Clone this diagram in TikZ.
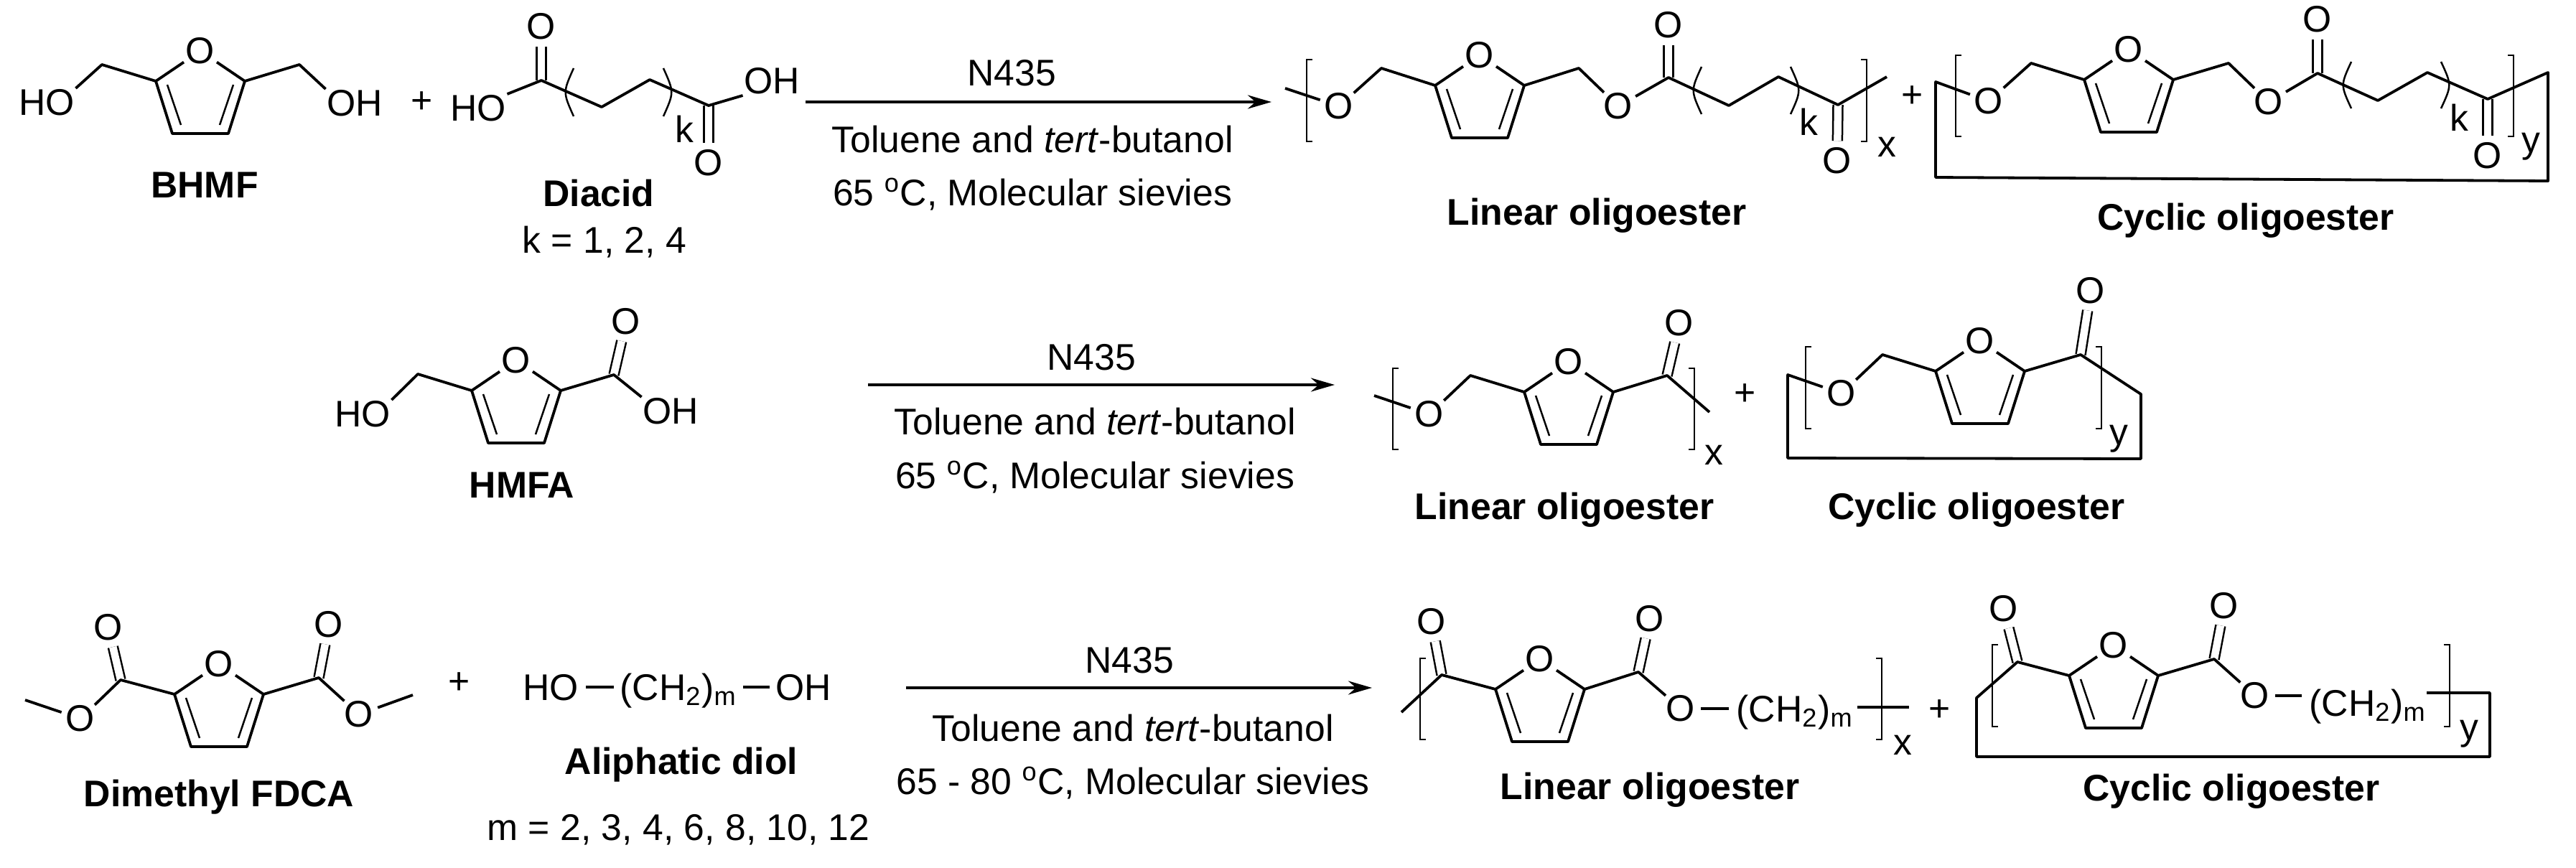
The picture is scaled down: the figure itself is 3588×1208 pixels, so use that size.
\documentclass[tikz,border=0pt]{standalone}
\usepackage{fontspec}
\setmainfont{Liberation Sans}
\usetikzlibrary{arrows.meta}

\tikzset{
  every node/.style={font=\fontsize{14.7}{16}\selectfont},
  atom/.style={circle, inner sep=0pt},
  grp/.style={inner sep=0.1mm},
  txt/.style={anchor=base, inner sep=0pt},
  lbl/.style={anchor=base, inner sep=0pt, font=\fontsize{14.7}{16}\selectfont\bfseries},
  bond/.style={line width=0.38mm, line join=round},
  fine/.style={line width=0.25mm},
  dbl/.style={line width=0.25mm, double, double distance=1.05mm},
  rxn/.style={line width=0.42mm, -{Stealth[length=3.3mm, width=1.9mm]}},
}

% ring with its O at (#2,#3)
\newcommand{\furan}[3]{
  \node[atom] (#1O) at (#2,#3) {O};
  \coordinate (#1L) at (#2-62,#3+42);
  \coordinate (#1R) at (#2+62,#3+42);
  \coordinate (#1BL) at (#2-39,#3+115);
  \coordinate (#1BR) at (#2+39,#3+115);
  \draw[bond] (#1O) -- (#1L) -- (#1BL) -- (#1BR) -- (#1R) -- (#1O);
  \draw[fine] (#2-46,#3+47) -- (#2-27,#3+103);
  \draw[fine] (#2+46,#3+47) -- (#2+27,#3+103);
}
\newcommand{\brackets}[4]{
  \draw[fine] (#1+8,#3) -- (#1,#3) -- (#1,#4) -- (#1+8,#4);
  \draw[fine] (#2-8,#3) -- (#2,#3) -- (#2,#4) -- (#2-8,#4);
}
\newcommand{\parens}[4]{
  \draw[fine] (#1+11,#3) .. controls (#1-4,{(#3+#4)/2}) .. (#1+11,#4);
  \draw[fine] (#2-11,#3) .. controls (#2+4,{(#3+#4)/2}) .. (#2-11,#4);
}

\begin{document}
\begin{tikzpicture}[x=0.1mm, y=-0.1mm]
\useasboundingbox (0,0) rectangle (3588,1208);

% first row
\furan{bh}{279}{71}
\coordinate (bhA) at (142,90);
\coordinate (bhB) at (417,90);
\node[grp] (bhHO) at (65,143) {HO};
\node[grp] (bhOH) at (494,144) {OH};
\draw[bond] (bhHO.north east) -- (bhA) -- (bhL);
\draw[bond] (bhOH.north west) -- (bhB) -- (bhR);
\node[lbl] (bhname) at (285,275) {BHMF};
\node (plusA) at (588,143) {+};

\node[grp] (daHO) at (666,151) {HO};
\node[grp] (daOH) at (1075,113) {OH};
\node[atom] (daOa) at (754,37) {O};
\node[atom] (daOb) at (987,227) {O};
\coordinate (daA) at (754,112);
\coordinate (daB) at (838,149);
\coordinate (daC) at (905,111);
\coordinate (daD) at (987,147);
\draw[dbl] (daA) -- (daOa);
\draw[dbl] (daD) -- (daOb);
\draw[bond] (daHO.north east) -- (daA) -- (daB) -- (daC) -- (daD) -- (daOH.south west);
\parens{788}{935}{95}{162}
\node[txt] (dak) at (953,198) {k};
\node[lbl] (daname) at (834,287) {Diacid};
\node[txt] (davals) at (842,352) {k = 1, 2, 4};

\coordinate (arrA) at (1122,142);
\coordinate (arrB) at (1771,142);
\draw[rxn] (arrA) -- (arrB);
\node[txt] (catA) at (1409,119) {N435};
\node[txt] (solA) at (1438,212) {Toluene and \textit{tert}-butanol};
\node[txt] (condA) at (1438,286) {65 \textsuperscript{o}C, Molecular sievies};

% linear, first row
\furan{la}{2061}{77}
\node[atom] (laOa) at (1865,148) {O};
\node[atom] (laOb) at (2254,148) {O};
\node[atom] (laOc) at (2324,35) {O};
\node[atom] (laOd) at (2559,224) {O};
\coordinate (laS) at (1790,123);
\coordinate (laA) at (1924,95);
\coordinate (laB) at (2199,95);
\coordinate (laC) at (2324,108);
\coordinate (laD) at (2408,147);
\coordinate (laE) at (2477,107);
\coordinate (laF) at (2560,146);
\coordinate (laT) at (2628,107);
\draw[dbl] (laC) -- (laOc);
\draw[dbl] (laF) -- (laOd);
\draw[bond] (laS) -- (laOa) -- (laA) -- (laL);
\draw[bond] (laR) -- (laB) -- (laOb) -- (laC) -- (laD) -- (laE) -- (laF) -- (laT);
\parens{2359}{2505}{93}{159}
\brackets{1820}{2600}{83}{197}
\node[txt] (lak) at (2519,188) {k};
\node[txt] (lax) at (2628,218) {x};
\node[lbl] (laname) at (2224,313) {Linear oligoester};
\node (plusB) at (2664,135) {+};

% cyclic, first row
\furan{ca}{2965}{69}
\node[atom] (caOa) at (2770,141) {O};
\node[atom] (caOb) at (3160,142) {O};
\node[atom] (caOc) at (3228,27) {O};
\node[atom] (caOd) at (3465,217) {O};
\coordinate (caA) at (2829,88);
\coordinate (caB) at (3104,88);
\coordinate (caC) at (3228,102);
\coordinate (caD) at (3312,140);
\coordinate (caE) at (3381,101);
\coordinate (caF) at (3465,138);
\coordinate (caG) at (3549,101);
\coordinate (caH) at (3549,252);
\coordinate (caI) at (2696,247);
\coordinate (caJ) at (2696,114);
\draw[dbl] (caC) -- (caOc);
\draw[dbl] (caF) -- (caOd);
\draw[bond] (caL) -- (caA) -- (caOa) -- (caJ) -- (caI) -- (caH) -- (caG) -- (caF) -- (caE) -- (caD) -- (caC) -- (caOb) -- (caB) -- (caR);
\parens{3264}{3411}{86}{151}
\brackets{2724}{3501}{77}{190}
\node[txt] (cak) at (3425,182) {k};
\node[txt] (cay) at (3525,212) {y};
\node[lbl] (caname) at (3128,320) {Cyclic oligoester};

% second row
\furan{hm}{719}{502}
\node[grp] (hmHO) at (505,577) {HO};
\node[grp] (hmOH) at (934,573) {OH};
\node[atom] (hmOa) at (872,448) {O};
\coordinate (hmA) at (582,521);
\coordinate (hmB) at (855,522);
\draw[dbl] (hmB) -- (hmOa);
\draw[bond] (hmHO.north east) -- (hmA) -- (hmL);
\draw[bond] (hmR) -- (hmB) -- (hmOH.north west);
\node[lbl] (hmname) at (727,693) {HMFA};

\coordinate (arrC) at (1209,536);
\coordinate (arrD) at (1859,536);
\draw[rxn] (arrC) -- (arrD);
\node[txt] (catB) at (1520,515) {N435};
\node[txt] (solB) at (1525,605) {Toluene and \textit{tert}-butanol};
\node[txt] (condB) at (1525,680) {65 \textsuperscript{o}C, Molecular sievies};

\furan{lb}{2185}{504}
\node[atom] (lbOa) at (1991,577) {O};
\node[atom] (lbOc) at (2339,450) {O};
\coordinate (lbS) at (1914,551);
\coordinate (lbA) at (2048,523);
\coordinate (lbB) at (2322,523);
\coordinate (lbT) at (2381,574);
\draw[dbl] (lbB) -- (lbOc);
\draw[bond] (lbS) -- (lbOa) -- (lbA) -- (lbL);
\draw[bond] (lbR) -- (lbB) -- (lbT);
\brackets{1940}{2360}{513}{626}
\node[txt] (lbx) at (2387,647) {x};
\node[lbl] (lbname) at (2179,723) {Linear oligoester};
\node (plusC) at (2431,550) {+};

\furan{cb}{2758}{475}
\node[atom] (cbOa) at (2565,548) {O};
\node[atom] (cbOc) at (2912,405) {O};
\coordinate (cbA) at (2622,494);
\coordinate (cbB) at (2898,494);
\coordinate (cbC) at (2982,549);
\coordinate (cbD) at (2982,639);
\coordinate (cbE) at (2490,638);
\coordinate (cbF) at (2490,522);
\draw[dbl] (cbB) -- (cbOc);
\draw[bond] (cbL) -- (cbA) -- (cbOa) -- (cbF) -- (cbE) -- (cbD) -- (cbC) -- (cbB) -- (cbR);
\brackets{2515}{2927}{483}{597}
\node[txt] (cby) at (2951,619) {y};
\node[lbl] (cbname) at (2753,723) {Cyclic oligoester};

% third row
\furan{dm}{305}{925}
\node[atom] (dmOa) at (112,1001) {O};
\node[atom] (dmOb) at (500,995) {O};
\node[atom] (dmOc) at (151,874) {O};
\node[atom] (dmOd) at (458,870) {O};
\coordinate (dmA) at (168,947);
\coordinate (dmB) at (444,944);
\coordinate (dmS) at (35,975);
\coordinate (dmT) at (575,968);
\draw[dbl] (dmA) -- (dmOc);
\draw[dbl] (dmB) -- (dmOd);
\draw[bond] (dmS) -- (dmOa) -- (dmA) -- (dmL);
\draw[bond] (dmR) -- (dmB) -- (dmOb) -- (dmT);
\node[lbl] (dmname) at (305,1123) {Dimethyl FDCA};
\node (plusD) at (640,952) {+};

\node[txt] (diolHO) at (767,975) {HO};
\node[txt] (diolchain) at (945,975) {(CH\textsubscript{2})\textsubscript{m}};
\node[txt] (diolOH) at (1119,975) {OH};
\draw[bond, shorten <=1mm, shorten >=0.8mm] (diolHO.east) -- (diolHO.east -| diolchain.west);
\draw[bond, shorten <=0.8mm, shorten >=0.8mm] (diolchain.east |- diolHO.east) -- (diolOH.west |- diolHO.east);
\node[lbl] (diolname) at (949,1078) {Aliphatic diol};
\node[txt] (diolvals) at (945,1170) {m = 2, 3, 4, 6, 8, 10, 12};

\coordinate (arrE) at (1262,958);
\coordinate (arrF) at (1911,958);
\draw[rxn] (arrE) -- (arrF);
\node[txt] (catC) at (1573,937) {N435};
\node[txt] (solC) at (1578,1032) {Toluene and \textit{tert}-butanol};
\node[txt] (condC) at (1578,1106) {65 - 80 \textsuperscript{o}C, Molecular sievies};

\furan{lc}{2145}{918}
\node[atom] (lcOb) at (2341,987) {O};
\node[atom] (lcOc) at (1994,866) {O};
\node[atom] (lcOd) at (2298,862) {O};
\node[txt] (lcchain) at (2500,1005) {(CH\textsubscript{2})\textsubscript{m}};
\coordinate (lcS) at (1952,992);
\coordinate (lcA) at (2008,940);
\coordinate (lcB) at (2282,936);
\coordinate (lcT) at (2659,985);
\draw[dbl] (lcA) -- (lcOc);
\draw[dbl] (lcB) -- (lcOd);
\draw[bond] (lcS) -- (lcA) -- (lcL);
\draw[bond] (lcR) -- (lcB) -- (lcOb);
\draw[bond, shorten >=1mm] (lcOb) -- (lcOb -| lcchain.west);
\draw[bond, shorten <=0.5mm] (lcchain.east |- lcT) -- (lcT);
\brackets{1978}{2621}{917}{1030}
\node[txt] (lcx) at (2650,1051) {x};
\node[lbl] (lcname) at (2298,1113) {Linear oligoester};
\node (plusE) at (2702,990) {+};

\furan{cc}{2944}{899}
\node[atom] (ccOb) at (3141,969) {O};
\node[atom] (ccOc) at (2791,848) {O};
\node[atom] (ccOd) at (3098,844) {O};
\node[txt] (ccchain) at (3298,997) {(CH\textsubscript{2})\textsubscript{m}};
\coordinate (ccA) at (2810,922);
\coordinate (ccB) at (3084,918);
\coordinate (ccC) at (2753,972);
\coordinate (ccD) at (2753,1054);
\coordinate (ccE) at (3468,1054);
\coordinate (ccF) at (3468,965);
\draw[dbl] (ccA) -- (ccOc);
\draw[dbl] (ccB) -- (ccOd);
\draw[bond] (ccL) -- (ccA) -- (ccC) -- (ccD) -- (ccE) -- (ccF) -- (ccchain.east |- ccF);
\draw[bond] (ccR) -- (ccB) -- (ccOb);
\draw[bond, shorten >=1mm] (ccOb) -- (ccOb -| ccchain.west);
\brackets{2775}{3412}{898}{1012}
\node[txt] (ccy) at (3439,1030) {y};
\node[lbl] (ccname) at (3108,1115) {Cyclic oligoester};
\end{tikzpicture}
\end{document}
